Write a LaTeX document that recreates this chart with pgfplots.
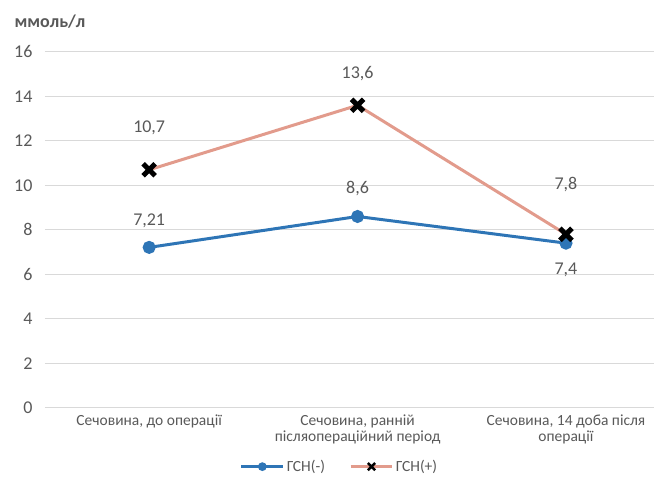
\documentclass[border=0pt]{standalone}
\usepackage{pgfplots}
\pgfplotsset{compat=1.18}
\usepackage{fontspec}
\setmainfont{Carlito}
\definecolor{txt}{RGB}{89,89,89}
\definecolor{gridc}{RGB}{217,217,217}
\definecolor{blueS}{RGB}{46,117,182}
\definecolor{pinkS}{RGB}{226,155,140}
\begin{document}
\begin{tikzpicture}
\begin{axis}[
  scale only axis, width=609pt, height=356pt,
  xmin=-0.5, xmax=2.42, ymin=0, ymax=16,
  ytick={0,2,...,16},
  xtick={0,1,2},
  xticklabels={{Сечовина, до операції},{Сечовина, ранній\\післяопераційний період},{Сечовина, 14 доба після\\операції}},
  xticklabel style={align=center, font=\fontsize{15.5}{16}\selectfont, text=txt, yshift=-4pt},
  yticklabel style={font=\fontsize{18}{20}\selectfont, text=txt, xshift=-9pt},
  /pgf/number format/assume math mode=true,
  ymajorgrids, grid style={gridc, line width=1pt},
  axis line style={draw=none},
  major tick length=0pt,
  clip=false,
  legend columns=2,
  legend style={draw=none, at={(0.484,0)}, anchor=center, yshift=-59pt,
    font=\fontsize{15.5}{17}\selectfont, text=txt, /tikz/every even column/.append style={column sep=22pt}},
  legend image code/.code={\draw[mark repeat=2,mark phase=2, every mark/.append style={scale=0.6, line width=2.6pt}] plot coordinates {(0pt,0pt)(21pt,0pt)(42pt,0pt)};},
  nodes near coords,
  point meta=explicit symbolic,
  visualization depends on={\thisrow{off}\as\off},
  every node near coord/.append style={anchor=center, yshift=\off pt, font=\fontsize{18}{20}\selectfont, text=txt},
]
\addplot[blueS, line width=3pt, mark=*, mark size=5pt, mark options={fill=blueS, draw=blueS}] table[meta=lab] {
x y lab off
0 7.21 7,21 27
1 8.6 8,6 28
2 7.4 7,4 -27
};
\addlegendentry{ГСН(-)}
\addplot[pinkS, line width=3pt, mark=x, mark size=8.5pt, mark options={black, line width=5pt}] table[meta=lab] {
x y lab off
0 10.7 10,7 42
1 13.6 13,6 32
2 7.8 7,8 50
};
\addlegendentry{ГСН(+)}
\end{axis}
\node[anchor=west, font=\bfseries\fontsize{18}{20}\selectfont, text=txt] at ([xshift=-34pt, yshift=30pt]current axis.north west) {ммоль/л};
\path[use as bounding box] ([xshift=-45pt,yshift=-75pt]current axis.south west) rectangle ([yshift=52pt]current axis.north east);
\end{tikzpicture}
\end{document}
